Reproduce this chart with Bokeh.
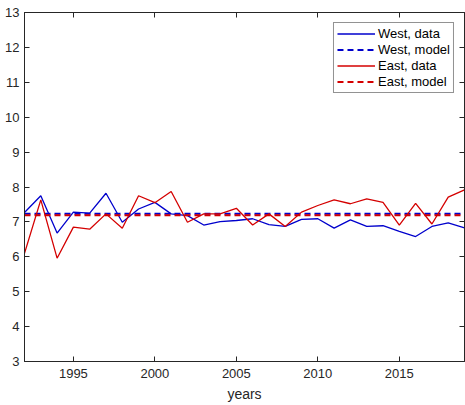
from bokeh.plotting import figure
from bokeh.models import LinearAxis, FixedTicker, Range1d, Legend, LegendItem
from bokeh.embed import file_html
from bokeh.resources import INLINE

# Annual series, 1992-2019
years = list(range(1992, 2020))
west_data = [7.27, 7.75, 6.68, 7.28, 7.25, 7.82, 6.99, 7.37, 7.56, 7.23,
             7.18, 6.91, 7.01, 7.04, 7.09, 6.92, 6.87, 7.07, 7.09, 6.82,
             7.06, 6.87, 6.89, 6.73, 6.58, 6.87, 6.97, 6.83]
east_data = [6.10, 7.63, 5.96, 6.85, 6.79, 7.23, 6.82, 7.75, 7.55, 7.87,
             6.99, 7.23, 7.23, 7.39, 6.91, 7.23, 6.87, 7.28, 7.47, 7.63,
             7.52, 7.66, 7.56, 6.91, 7.53, 6.94, 7.71, 7.92]

# Constant model levels over the whole period
model_years = [1992, 2019]
west_model = [7.23, 7.23]
east_model = [7.19, 7.19]

x_ticks = [1995, 2000, 2005, 2010, 2015]
y_ticks = list(range(3, 14))

FONT = "Liberation Sans"
AX = "#262626"
BLUE = "#0000cc"
RED = "#d40000"

p = figure(width=465, height=405, output_backend="svg", toolbar_location=None,
           x_range=Range1d(1992, 2019), y_range=Range1d(3, 13),
           min_border_left=24, min_border_right=1, min_border_top=12,
           min_border_bottom=44)
p.xgrid.visible = False
p.ygrid.visible = False
p.outline_line_color = AX
p.outline_line_width = 1
p.background_fill_color = "white"
p.border_fill_color = "white"

r_wd = p.line(years, west_data, line_color=BLUE, line_width=1.3)
r_wm = p.line(model_years, west_model, line_color=BLUE, line_width=2, line_dash="6 4")
r_ed = p.line(years, east_data, line_color=RED, line_width=1.3)
r_em = p.line(model_years, east_model, line_color=RED, line_width=2, line_dash="6 4")

def style(ax, labels=True):
    ax.axis_line_color = AX
    ax.major_tick_line_color = AX
    ax.minor_tick_line_color = None
    ax.major_tick_in = 5
    ax.major_tick_out = 0
    if labels:
        ax.major_label_text_font = FONT
        ax.major_label_text_font_size = "13px"
        ax.major_label_text_color = AX
    else:
        # tick marks only on the opposite sides of the box
        ax.major_label_text_color = None
        ax.major_label_text_font_size = "1px"
        ax.major_label_standoff = 0

p.xaxis.ticker = FixedTicker(ticks=x_ticks)
p.yaxis.ticker = FixedTicker(ticks=y_ticks)
style(p.xaxis[0])
style(p.yaxis[0])
p.xaxis.major_label_standoff = 7
p.yaxis.major_label_standoff = 5
p.xaxis.axis_label = "years"
p.xaxis.axis_label_text_font = FONT
p.xaxis.axis_label_text_font_size = "14px"
p.xaxis.axis_label_text_font_style = "normal"
p.xaxis.axis_label_text_color = AX
p.xaxis.axis_label_standoff = 5

top = LinearAxis(ticker=FixedTicker(ticks=x_ticks))
style(top, labels=False)
p.add_layout(top, "above")
right = LinearAxis(ticker=FixedTicker(ticks=y_ticks))
style(right, labels=False)
p.add_layout(right, "right")

legend = Legend(items=[
    LegendItem(label="West, data", renderers=[r_wd]),
    LegendItem(label="West, model", renderers=[r_wm]),
    LegendItem(label="East, data", renderers=[r_ed]),
    LegendItem(label="East, model", renderers=[r_em]),
], location="top_right")
legend.label_text_font = FONT
legend.label_text_font_size = "13px"
legend.label_text_color = "black"
legend.glyph_width = 38
legend.glyph_height = 15
legend.label_height = 15
legend.label_standoff = 3
legend.spacing = 1
legend.padding = 3
legend.margin = 10
legend.border_line_color = AX
legend.border_line_width = 1
legend.background_fill_alpha = 1
p.add_layout(legend, "center")

open("out.html", "w").write(file_html(p, INLINE))
